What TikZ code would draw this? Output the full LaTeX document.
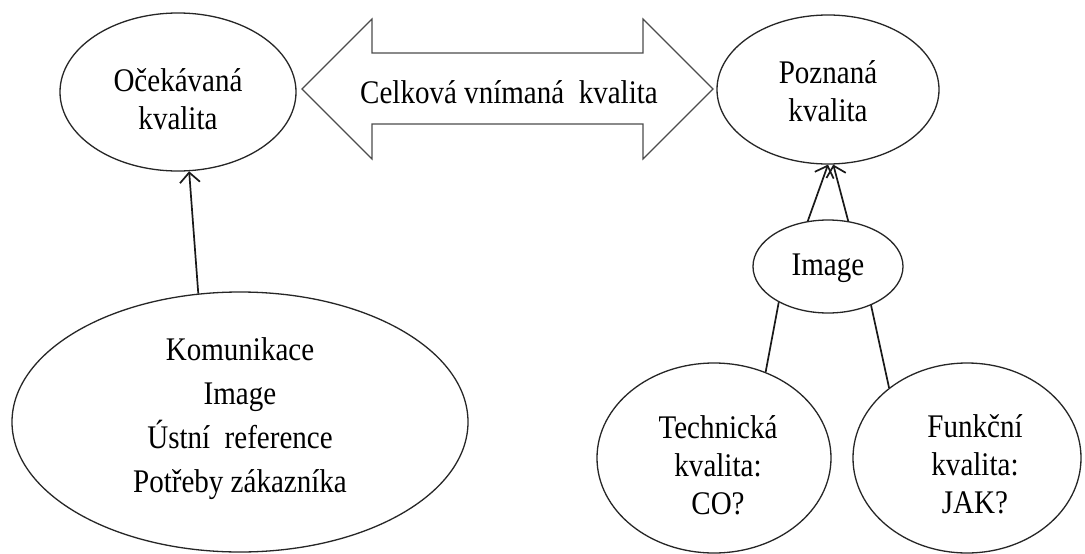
\documentclass[tikz,border=0pt]{standalone}
\usepackage{fontspec}
\setmainfont{Liberation Serif}[FakeStretch=0.88]
\usetikzlibrary{arrows.meta,shapes.geometric}
\tikzset{
  oval/.style={ellipse, draw=black!85, line width=1.3pt, inner sep=0pt},
  txt/.style={align=center, inner sep=0pt, font=\fontsize{33}{38}\selectfont},
  conn/.style={draw=black!90, line width=1.7pt},
  arr/.style={conn, -{Straight Barb[length=10pt,width=20pt,line width=1.7pt]}},
  bigarrow/.style={draw=black!70, line width=1.2pt, fill=white}
}
\begin{document}
\begin{tikzpicture}[x=1pt,y=-1pt]
\useasboundingbox[fill=white] (0,0) rectangle (1085,554);
% ellipses
\node[oval, minimum width=236pt, minimum height=158pt] (ok) at (178,92) {};
\node[txt] (okt) at (178,99) {Očekávaná\\kvalita};
\node[oval, minimum width=222pt, minimum height=149pt] (pk) at (828,89.5) {};
\node[txt] (pkt) at (828,91) {Poznaná\\kvalita};
\node[oval, minimum width=150pt, minimum height=93pt] (im) at (828,266.5) {};
\node[txt] (imt) at (828,268) {Image};
\node[oval, minimum width=456pt, minimum height=260pt] (big) at (240,422) {};
\node[txt, font=\fontsize{33}{44}\selectfont] (bigt) at (240,419) {Komunikace\\Image\\Ústní\ \ reference\\Potřeby zákazníka};
\node[oval, minimum width=234pt, minimum height=190pt] (tk) at (714,458) {};
\node[txt] (tkt) at (718,465) {Technická\\kvalita:\\CO?};
\node[oval, minimum width=228pt, minimum height=190pt] (fk) at (967,458) {};
\node[txt] (fkt) at (975,464) {Funkční\\kvalita:\\JAK?};
% double arrow
\draw[bigarrow] (302,89) -- (372,19) -- (372,53) -- (643,53) -- (643,19) -- (713,89)
  -- (643,159) -- (643,124) -- (372,124) -- (372,159) -- cycle;
\node[txt] (ck) at (509,92) {Celková vnímaná\ \ kvalita};
% connectors
\draw[arr] (big.108.7) -- (ok.-82.9);
\draw[arr] (im.114.3) -- (pk.-90.7);
\draw[arr] (im.66.7) -- (pk.-86.3);
\draw[conn] (im.216.5) -- (tk.59.8);
\draw[conn] (im.-42.3) -- (fk.138.5);
\end{tikzpicture}
\end{document}
